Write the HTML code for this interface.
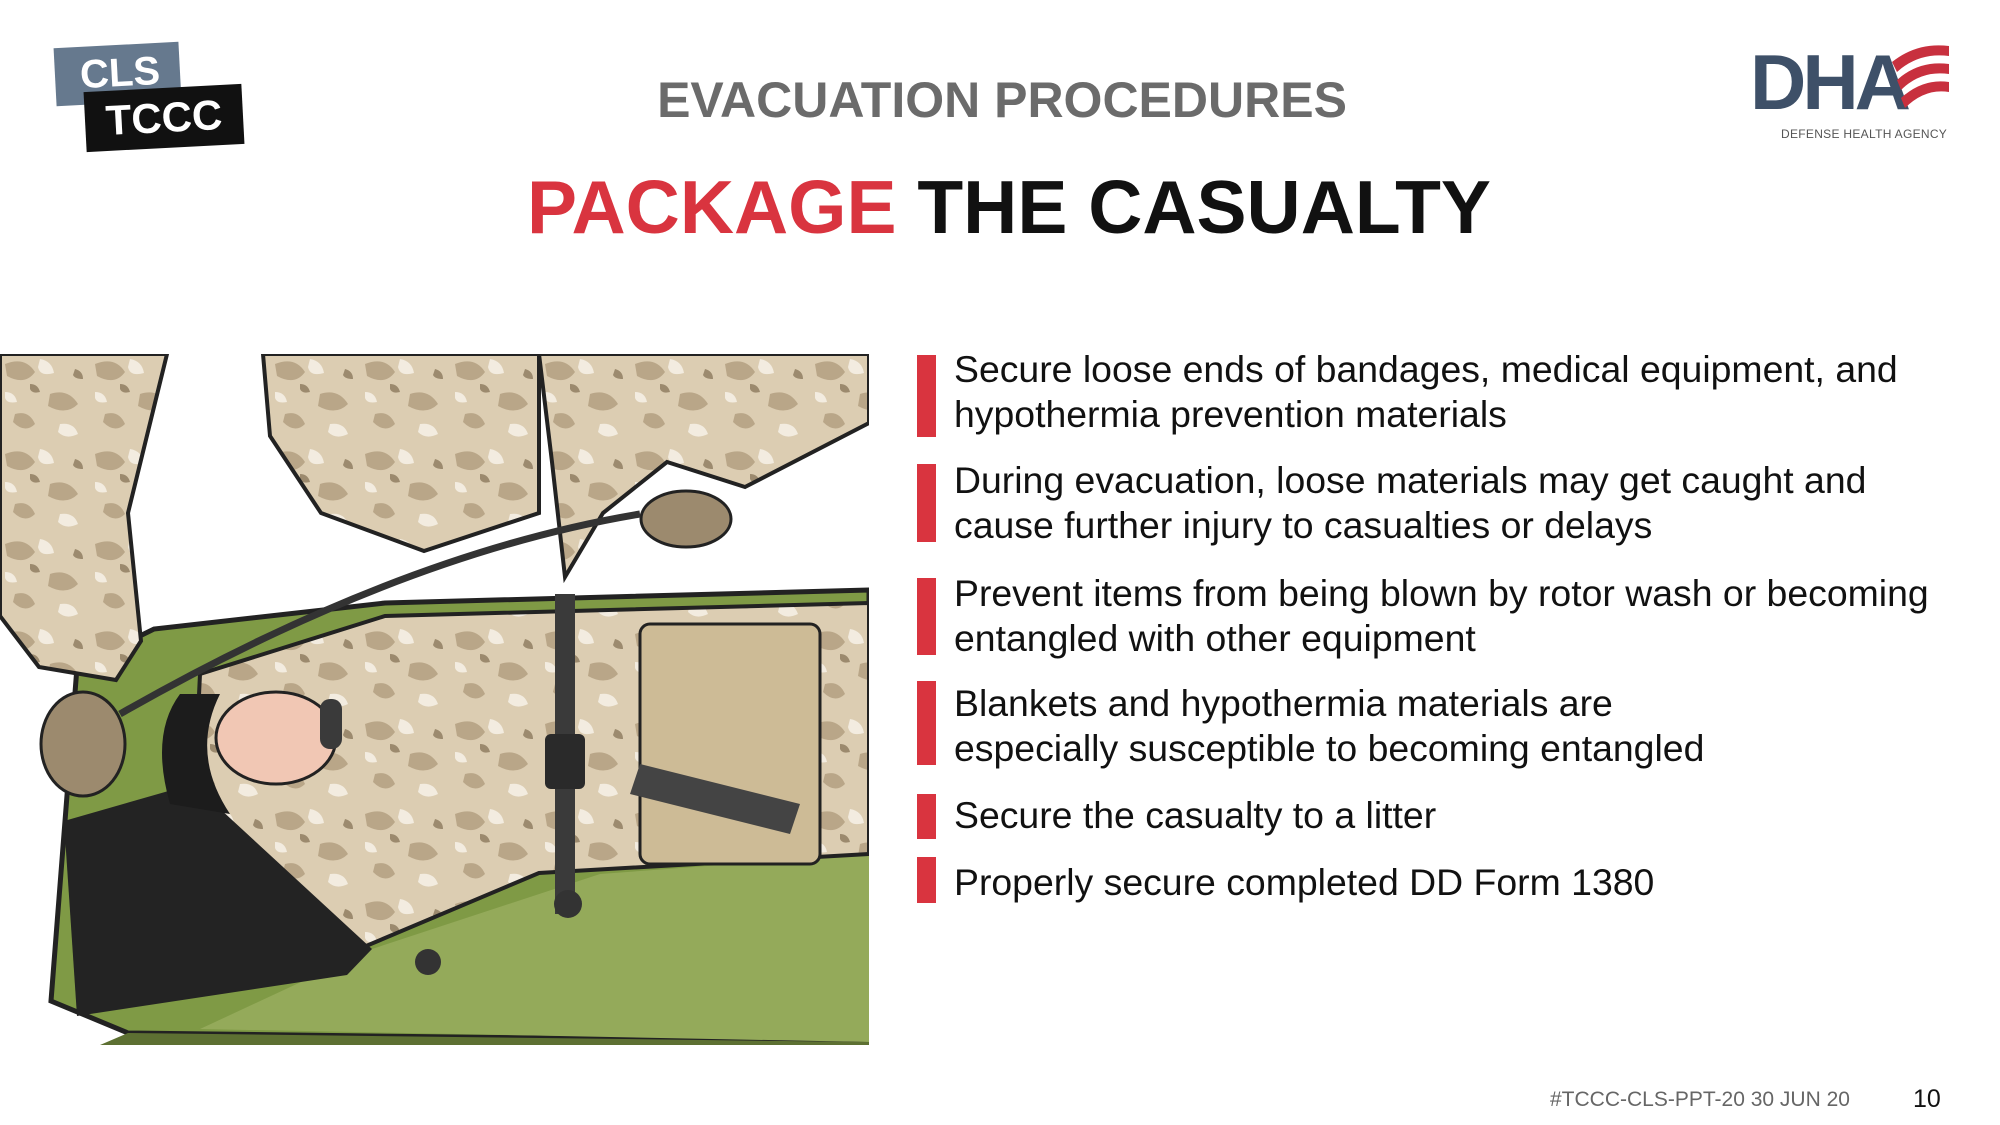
<!DOCTYPE html>
<html><head><meta charset="utf-8"><style>
body{margin:0;width:2000px;height:1125px;background:#fff;position:relative;overflow:hidden;font-family:"Liberation Sans",Arial,sans-serif}
.a{position:absolute;white-space:nowrap}
.bar{position:absolute;left:917px;width:19px;background:#d9343f}
.t{position:absolute;left:954px;font-size:37.4px;line-height:45px;color:#111;white-space:nowrap}
</style></head><body>
<div class="a" style="left:55px;top:45px;width:125px;height:58px;background:#66798e;transform:rotate(-3deg)"></div>
<div class="a" style="left:60px;top:44px;width:120px;font:900 40px 'Liberation Sans',sans-serif;color:#fff;text-align:center;line-height:58px;transform:rotate(-3deg)">CLS</div>
<div class="a" style="left:85px;top:88px;width:158px;height:60px;background:#111;transform:rotate(-3deg)"></div>
<div class="a" style="left:85px;top:88px;width:158px;font:900 42px 'Liberation Sans',sans-serif;color:#fff;text-align:center;line-height:60px;transform:rotate(-3deg)">TCCC</div>

<div class="a" style="left:0;width:2000px;top:71px;text-align:center;font-weight:bold;font-size:50px;color:#6b6b6b;padding-left:4px;box-sizing:border-box">EVACUATION PROCEDURES</div>
<div class="a" style="left:0;width:2000px;top:164px;text-align:center;font-weight:bold;font-size:75px;color:#111;padding-left:18px;box-sizing:border-box"><span style="color:#d9343f">PACKAGE</span> THE CASUALTY</div>

<div class="a" style="left:1750px;top:42px;font:900 78px 'Liberation Sans',sans-serif;color:#3e5068;letter-spacing:-4px;line-height:80px">DHA</div>
<svg class="a" style="left:1887px;top:42px" width="65" height="70"><path d="M5 20 Q30 0 62 4 L62 14 Q32 10 10 30Z M10 38 Q32 18 62 22 L62 32 Q34 28 14 48Z M14 56 Q36 36 62 40 L62 50 Q38 46 18 66Z" fill="#c8303e"/></svg>
<div class="a" style="left:1781px;top:127px;font-size:12px;color:#555;letter-spacing:0.3px">DEFENSE HEALTH AGENCY</div>

<svg class="a" style="left:0;top:354px" width="869" height="691" viewBox="0 0 869 691">
<defs><pattern id="c" width="90" height="90" patternUnits="userSpaceOnUse">
<rect width="90" height="90" fill="#dccdb2"/>
<path d="M5 10 q20 -8 30 8 q-10 14 -28 4z M50 40 q18 -6 28 10 q-12 12 -30 2z M15 60 q14 -4 20 10 q-10 10 -22 -2z" fill="#b9a688"/>
<path d="M40 5 q12 2 14 14 q-14 4 -16 -6z M60 70 q14 -2 18 10 q-12 6 -20 -2z M5 38 q10 0 12 10 q-10 2 -12 -4z" fill="#f3ece0"/>
<path d="M30 30 q8 0 10 8 q-8 2 -10 -3z M75 15 q8 2 8 10 q-8 0 -10 -4z" fill="#9c8a6e"/>
</pattern></defs>
<polygon points="51,647 77,313 154,275 385,249 869,236 869,688 128,679" fill="#7f9a45" stroke="#222" stroke-width="5"/>
<polygon points="372,595 600,520 869,500 869,688 200,675" fill="#94aa5a"/>
<polygon points="128,679 869,688 869,691 100,691" fill="#5d7032"/>
<polygon points="385,262 869,249 869,500 539,519 359,595 193,467 200,320" fill="url(#c)" stroke="#222" stroke-width="4"/>
<rect x="640" y="270" width="180" height="240" rx="10" fill="#cdbb96" stroke="#222" stroke-width="3"/>
<polygon points="64,467 193,430 372,595 347,621 77,662" fill="#232323"/>
<path d="M180 340 q-30 40 -10 110 l60 10 q-40 -60 -10 -120z" fill="#1c1c1c"/>
<ellipse cx="276" cy="384" rx="60" ry="46" fill="#f1c7b4" stroke="#222" stroke-width="3"/>
<rect x="320" y="345" width="22" height="50" rx="10" fill="#3a3a3a"/>
<rect x="555" y="240" width="20" height="320" fill="#3a3a3a"/>
<rect x="545" y="380" width="40" height="55" rx="6" fill="#2a2a2a"/>
<circle cx="568" cy="550" r="14" fill="#333"/>
<circle cx="428" cy="608" r="13" fill="#333"/>
<polygon points="640,410 800,450 790,480 630,440" fill="#444"/>
<polygon points="0,0 167,0 128,159 141,287 116,326 39,313 0,262" fill="url(#c)" stroke="#222" stroke-width="4"/>
<polygon points="263,0 539,0 539,159 424,197 321,159 270,82" fill="url(#c)" stroke="#222" stroke-width="4"/>
<polygon points="539,0 869,0 869,69 745,133 667,108 603,159 565,223 552,108" fill="url(#c)" stroke="#222" stroke-width="4"/>
<ellipse cx="83" cy="390" rx="42" ry="52" fill="#9c8a6e" stroke="#222" stroke-width="3"/>
<ellipse cx="686" cy="165" rx="45" ry="28" fill="#9c8a6e" stroke="#222" stroke-width="3"/>
<path d="M120 360 Q400 200 640 160" stroke="#333" stroke-width="7" fill="none"/>
</svg>

<div class="bar" style="top:355px;height:82px"></div>
<div class="bar" style="top:464px;height:78px"></div>
<div class="bar" style="top:578px;height:77px"></div>
<div class="bar" style="top:681px;height:84px"></div>
<div class="bar" style="top:794px;height:45px"></div>
<div class="bar" style="top:857px;height:46px"></div>
<div class="t" style="top:347px">Secure loose ends of bandages, medical equipment, and<br>hypothermia prevention materials</div>
<div class="t" style="top:458px">During evacuation, loose materials may get caught and<br>cause further injury to casualties or delays</div>
<div class="t" style="top:571px">Prevent items from being blown by rotor wash or becoming<br>entangled with other equipment</div>
<div class="t" style="top:681px">Blankets and hypothermia materials are<br>especially susceptible to becoming entangled</div>
<div class="t" style="top:793px">Secure the casualty to a litter</div>
<div class="t" style="top:860px">Properly secure completed DD Form 1380</div>

<div class="a" style="left:1550px;top:1088px;font-size:21px;color:#666">#TCCC-CLS-PPT-20 30 JUN 20</div>
<div class="a" style="left:1913px;top:1085px;font-size:25px;color:#111">10</div>
</body></html>
